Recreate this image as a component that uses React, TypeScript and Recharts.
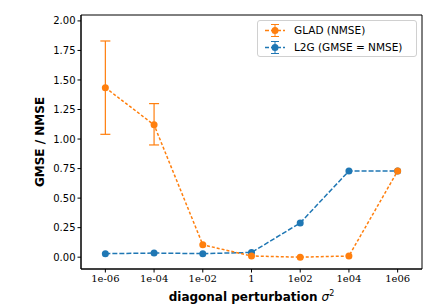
import React from 'react';
import { ComposedChart, Line, XAxis, YAxis, ErrorBar, ReferenceArea, Legend } from 'recharts';

const categories = ['1e-06', '1e-04', '1e-02', '1', '1e02', '1e04', '1e06'];
const gladValues = [1.435, 1.12, 0.105, 0.01, 0.0, 0.01, 0.73];
const gladErrLow: (number | null)[] = [0.395, 0.17, null, null, null, null, null];
const gladErrHigh: (number | null)[] = [0.395, 0.18, null, null, null, null, null];
const l2gValues = [0.03, 0.035, 0.03, 0.04, 0.29, 0.73, 0.73];
const yTicks = [0, 0.25, 0.5, 0.75, 1.0, 1.25, 1.5, 1.75, 2.0];

const ORANGE = '#ff7f0e';
const BLUE = '#1f77b4';

const data = categories.map((c, i) => ({
  x: i,
  label: c,
  glad: gladValues[i],
  gladErr: gladErrLow[i] == null ? undefined : [gladErrLow[i], gladErrHigh[i]],
  l2g: l2gValues[i],
}));

const LegendBox = () => (
  <div
    style={{
      position: 'absolute',
      left: 257,
      top: 20,
      width: 160,
      height: 37,
      border: '1px solid #d0d0d0',
      borderRadius: 3,
      background: 'rgba(255,255,255,0.8)',
      fontFamily: 'DejaVu Sans',
      fontSize: 10.5,
      color: '#000',
      boxSizing: 'border-box',
    }}
  >
    {[
      { name: 'GLAD (NMSE)', color: ORANGE, y: 2 },
      { name: 'L2G (GMSE = NMSE)', color: BLUE, y: 18.5 },
    ].map((e) => (
      <div key={e.name} style={{ position: 'absolute', left: 6, top: e.y, height: 15, display: 'flex', alignItems: 'center' }}>
        <svg width={22} height={15} style={{ display: 'block' }}>
          <line x1={1} x2={21} y1={7.5} y2={7.5} stroke={e.color} strokeWidth={1.5} strokeDasharray="4 2" />
          <line x1={11} x2={11} y1={1.5} y2={13.5} stroke={e.color} strokeWidth={1} />
          <line x1={7} x2={15} y1={1.5} y2={1.5} stroke={e.color} strokeWidth={1} />
          <line x1={7} x2={15} y1={13.5} y2={13.5} stroke={e.color} strokeWidth={1} />
          <circle cx={11} cy={7.5} r={3.5} fill={e.color} />
        </svg>
        <span style={{ marginLeft: 8, whiteSpace: 'nowrap', lineHeight: '15px' }}>{e.name}</span>
      </div>
    ))}
  </div>
);

const YLabel = (props: any) => {
  const vb = props.viewBox || { x: 0, y: 15, width: 81, height: 254 };
  const cx = vb.x + 40;
  const cy = vb.y + vb.height / 2;
  return (
    <text
      x={cx}
      y={cy}
      transform={`rotate(-90, ${cx}, ${cy})`}
      textAnchor="middle"
      dominantBaseline="central"
      fontFamily="DejaVu Sans"
      fontWeight="bold"
      fontSize={12}
      fill="#000"
    >
      GMSE / NMSE
    </text>
  );
};

const XLabel = (props: any) => {
  const vb = props.viewBox || { x: 81, y: 269, width: 341, height: 37 };
  const cx = vb.x + vb.width / 2;
  const cy = vb.y + 32;
  return (
    <text x={cx} y={cy} textAnchor="middle" fontFamily="DejaVu Sans" fontWeight="bold" fontSize={12} fill="#000">
      diagonal perturbation{' '}
      <tspan fontStyle="italic" fontWeight="normal" fontFamily="DejaVu Sans">σ</tspan>
      <tspan fontSize={8} dy={-5} fontWeight="normal">2</tspan>
    </text>
  );
};

export default function App() {
  return (
    <div style={{ position: 'absolute', left: 0, top: 0, width: 424, height: 306, background: '#fff' }}>
      <ComposedChart width={424} height={306} data={data} margin={{ top: 15, right: 2, bottom: 0, left: 0 }}>
        <XAxis
          dataKey="x"
          type="number"
          domain={[-0.5, 6.5]}
          ticks={[0, 1, 2, 3, 4, 5, 6]}
          tickFormatter={(v: number) => categories[v]}
          height={37}
          stroke="#000"
          tickSize={3.5}
          tickLine={{ stroke: '#000' }}
          tick={{ fill: '#000', fontFamily: 'DejaVu Serif', fontSize: 10 }}
          allowDataOverflow
          label={<XLabel />}
        />
        <YAxis
          type="number"
          domain={[-0.1, 2.05]}
          ticks={yTicks}
          tickFormatter={(v: number) => v.toFixed(2)}
          width={81}
          stroke="#000"
          tickSize={3.5}
          tick={{ fill: '#000', fontFamily: 'DejaVu Sans', fontSize: 10 }}
          allowDataOverflow
          label={<YLabel />}
        />
        <ReferenceArea x1={-0.5} x2={6.5} y1={-0.1} y2={2.05} fill="none" stroke="#000" strokeWidth={1} ifOverflow="visible" />
        <Line
          dataKey="l2g"
          stroke={BLUE}
          strokeWidth={1.5}
          strokeDasharray="5 2"
          dot={{ r: 3.5, fill: BLUE, stroke: BLUE, strokeWidth: 0 }}
          isAnimationActive={false}
        />
        <Line
          dataKey="glad"
          stroke={ORANGE}
          strokeWidth={1.5}
          strokeDasharray="3 2"
          dot={{ r: 3.5, fill: ORANGE, stroke: ORANGE, strokeWidth: 0 }}
          isAnimationActive={false}
        >
          <ErrorBar dataKey="gladErr" width={5} stroke={ORANGE} strokeWidth={1.2} direction="y" isAnimationActive={false} />
        </Line>
        <Legend content={<LegendBox />} wrapperStyle={{ position: 'absolute', left: 0, top: 0, width: 0, height: 0 }} />
      </ComposedChart>
    </div>
  );
}
